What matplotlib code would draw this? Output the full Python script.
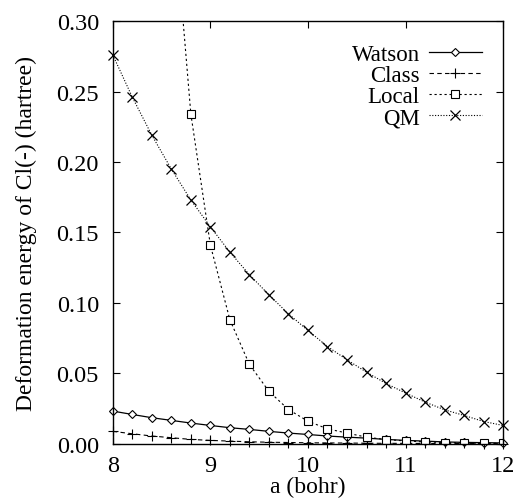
import matplotlib
matplotlib.use("Agg")
import matplotlib.pyplot as plt
import numpy as np

a = [8.0, 8.2, 8.4, 8.6, 8.8, 9.0, 9.2, 9.4, 9.6, 9.8, 10.0, 10.2, 10.4, 10.6, 10.8,
     11.0, 11.2, 11.4, 11.6, 11.8, 12.0]

watson = [0.0232, 0.0208, 0.0185, 0.0166, 0.0147, 0.0130, 0.0114, 0.0102, 0.0088, 0.0076,
          0.0066, 0.0055, 0.0047, 0.0040, 0.0031, 0.0024, 0.0019, 0.0013, 0.0010, 0.0008, 0.0006]
classical = [0.0088, 0.0071, 0.0055, 0.0043, 0.0031, 0.0024, 0.0019, 0.0014, 0.0011, 0.0009,
             0.0007, 0.0006, 0.0005, 0.0004, 0.0003, 0.0003, 0.0002, 0.0002, 0.0002, 0.0001, 0.0001]
local = [1.10, 0.70, 0.52, 0.40, 0.234, 0.141, 0.088, 0.0563, 0.0372, 0.0243,
         0.0160, 0.0106, 0.0076, 0.0047, 0.0030, 0.0020, 0.0013, 0.0009, 0.0006, 0.0004, 0.0003]
qm = [0.276, 0.246, 0.219, 0.195, 0.173, 0.154, 0.136, 0.120, 0.1057, 0.0922,
      0.0804, 0.0690, 0.0596, 0.0508, 0.0428, 0.0360, 0.0296, 0.0241, 0.0201, 0.0158, 0.0130]

plt.rcParams['font.family'] = ['Liberation Serif', 'DejaVu Serif']

fig = plt.figure(figsize=(5.15, 5.02), dpi=100)
ax = fig.add_axes([0.219, 0.114, 0.758, 0.842])

ax.plot(a, watson, '-', color='black', lw=0.9, marker='D', ms=4.5, mfc='white', mew=0.8,
        label='Watson', clip_on=False)
ax.plot(a, classical, linestyle=(0, (4, 3)), color='black', lw=0.8, marker='+', ms=7, mew=0.8,
        label='Class', clip_on=False)
ax.plot(a, local, linestyle=(0, (2, 2.5)), color='black', lw=0.8, marker='s', ms=5.5, mfc='white',
        mew=0.8, label='Local')
ax.plot(a, qm, linestyle=(0, (1, 1.5)), color='black', lw=0.8, marker='x', ms=6.5, mew=0.9,
        label='QM', clip_on=False)

ax.set_xlim(8, 12)
ax.set_ylim(0, 0.30)
ax.set_xticks([8, 9, 10, 11, 12])
ax.set_yticks([0.0, 0.05, 0.10, 0.15, 0.20, 0.25, 0.30])
ax.set_yticklabels(['0.00', '0.05', '0.10', '0.15', '0.20', '0.25', '0.30'])
ax.tick_params(direction='in', top=True, right=True, length=5, width=0.8, labelsize=17.5)
ax.tick_params(axis='y', pad=10)
ax.tick_params(axis='x', pad=8)
for s in ax.spines.values():
    s.set_linewidth(1.0)

ax.set_xlabel('a (bohr)', fontsize=17, labelpad=0)
ax.set_ylabel('Deformation energy of Cl(-) (hartree)', fontsize=17, labelpad=14)

leg = ax.legend(loc='upper right', bbox_to_anchor=(0.945, 0.945), frameon=False, markerfirst=False,
                fontsize=16.5, handlelength=2.3, labelspacing=0.0, handletextpad=0.4, borderaxespad=0,
                borderpad=0)
for t in leg.get_texts():
    t.set_ha('right')
leg._legend_box.align = 'right'

fig.savefig('out.png', dpi=100)
